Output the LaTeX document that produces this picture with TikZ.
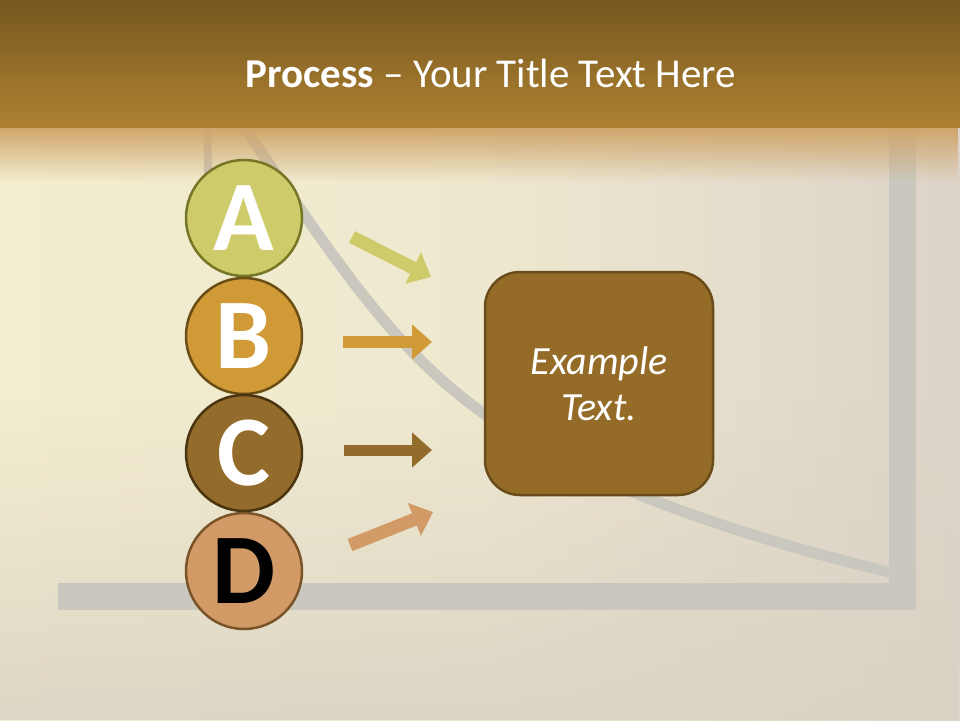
\documentclass[tikz,border=0pt]{standalone}
\usepackage{fontspec}
\setmainfont{Carlito}
\usetikzlibrary{arrows.meta,fadings}
\definecolor{bandtop}{HTML}{765820}
\definecolor{bandbot}{HTML}{AE8131}
\definecolor{glow}{HTML}{CFA468}
\definecolor{creamL}{HTML}{F3EECF}
\definecolor{creamM}{HTML}{EEE8CF}
\definecolor{creamR}{HTML}{DCD4C9}
\definecolor{floorc}{HTML}{D9D1C3}
\definecolor{greyline}{HTML}{CAC8BE}
\definecolor{aFill}{HTML}{CDCB6A}
\definecolor{aLine}{HTML}{767626}
\definecolor{bFill}{HTML}{D09A36}
\definecolor{bLine}{HTML}{6B4D16}
\definecolor{cFill}{HTML}{936B2A}
\definecolor{cLine}{HTML}{4B3510}
\definecolor{dFill}{HTML}{D19A66}
\definecolor{dLine}{HTML}{7A5428}
\definecolor{boxFill}{HTML}{946C28}
\definecolor{boxLine}{HTML}{6A4B1A}
\tikzfading[name=fadedown, top color=transparent!100, bottom color=transparent!0]
\tikzfading[name=glowfade, top color=transparent!0, middle color=transparent!70, bottom color=transparent!100]
\tikzset{
  circ/.style={circle, minimum size=116pt, inner sep=0pt, line width=2.5pt,
    font=\fontsize{100}{100}\selectfont\bfseries},
  fatarrow/.style={line width=#1, -{Triangle[width=34pt,length=20pt]}},
  greybar/.style={draw=greyline, line width=#1},
  boxst/.style={rectangle, rounded corners=35pt, minimum width=228pt, minimum height=223pt,
    fill=boxFill, draw=boxLine, line width=2.5pt, text=white, align=center,
    font=\fontsize{40}{46}\selectfont\itshape},
  titlest/.style={text=white, font=\fontsize{41}{48}\selectfont, anchor=base, inner sep=0pt}
}
\begin{document}
\begin{tikzpicture}[x=1pt,y=-1pt]
\useasboundingbox (0,0) rectangle (960,720);
% background
\shade[left color=creamL, right color=creamR, middle color=creamM] (0,0) rectangle (960,720);
\fill[floorc, path fading=fadedown, fill opacity=0.8] (0,400) rectangle (960,720);
% grey chart lines
\draw[greybar=27pt, line join=miter] (58,596.5) -- (902.5,596.5) -- (902.5,128);
\draw[greybar=11pt] (232,110) .. controls (329,249) and (385,343) .. (483,413)
                              .. controls (589,489) and (763,542) .. (889,572);
\draw[greybar=8pt] (207.5,110) -- (208,200);
% glow below band
\fill[glow, path fading=glowfade] (0,126) rectangle (960,182);
% band
\shade[top color=bandtop, bottom color=bandbot] (0,0) rectangle (960,127);
\node[titlest] (title) at (491,87) {\textbf{Process} – Your Title Text Here};
% circles
\node[circ, fill=aFill, draw=aLine, text=white] (A) at (244,218) {A};
\node[circ, fill=bFill, draw=bLine, text=white] (B) at (244,336) {B};
\node[circ, fill=cFill, draw=cLine, text=white] (C) at (244,453) {C};
\node[circ, fill=dFill, draw=dLine, text=black] (D) at (244,571) {D};
% arrows
\coordinate (a0) at (352,237); \coordinate (a1) at (431,277);
\coordinate (b0) at (343,342); \coordinate (b1) at (432,342);
\coordinate (c0) at (344,450); \coordinate (c1) at (432,450);
\coordinate (d0) at (350,545); \coordinate (d1) at (433,512);
\draw[fatarrow=13pt, aFill] (a0) -- (a1);
\draw[fatarrow=12pt, bFill] (b0) -- (b1);
\draw[fatarrow=11pt, cFill] (c0) -- (c1);
\draw[fatarrow=13pt, dFill] (d0) -- (d1);
% box
\node[boxst] (box) at (599,383.5) {Example\\Text.};
\end{tikzpicture}
\end{document}
